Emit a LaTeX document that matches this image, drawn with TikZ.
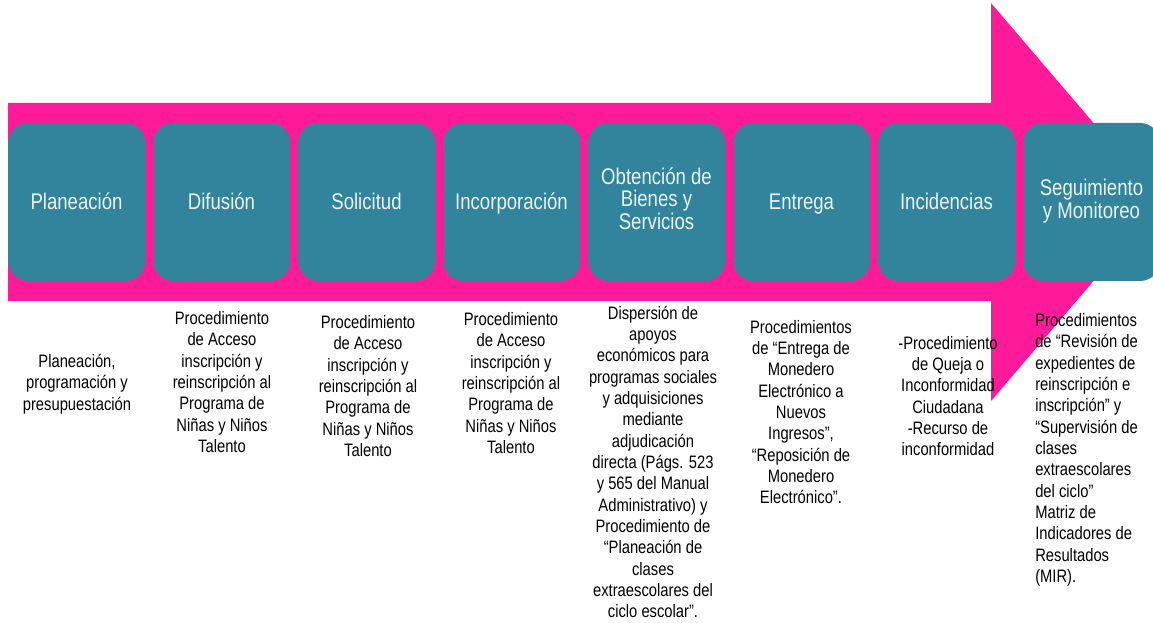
\documentclass[tikz,border=0pt]{standalone}
\usepackage{fontspec}
\setmainfont{Liberation Sans}[FakeStretch=0.82]
\usetikzlibrary{positioning}
\definecolor{flowpink}{HTML}{FF1A9A}
\definecolor{stageteal}{HTML}{31849B}
\definecolor{stagetext}{HTML}{EAF4F4}
\tikzset{
  stagebox/.style={rectangle,rounded corners=15pt,fill=stageteal,text=stagetext,
    minimum width=102.75pt,minimum height=118.5pt,align=center,inner sep=2pt,
    outer sep=0pt,font=\fontsize{17}{17}\selectfont,
    execute at begin node={\rule[-5.1pt]{0pt}{21.5pt}}},
  proctext/.style={align=center,inner sep=0pt,text=black,
    font=\fontsize{13.5}{16}\selectfont}
}
\begin{document}
\begin{tikzpicture}[x=0.75pt,y=-0.75pt]
	\useasboundingbox[fill=white] (0,0) rectangle (1153,623);
	% big arrow behind the stages
	\fill[flowpink] (8,103) -- (991,103) -- (991,3) -- (1161,202) -- (991,401) -- (991,301) -- (8,301) -- cycle;
	\node[stagebox] (plan) at (76.5,202) {Planeación};
	\node[stagebox,right=6pt of plan] (difu) {Difusión};
	\node[stagebox,right=6pt of difu] (soli) {Solicitud};
	\node[stagebox,right=6pt of soli] (inco) {Incorporación};
	\node[stagebox,right=6pt of inco] (obte) {Obtención de\\Bienes y\\Servicios};
	\node[stagebox,right=6pt of obte] (entr) {Entrega};
	\node[stagebox,right=6pt of entr] (inci) {Incidencias};
	\node[stagebox,right=6pt of inci] (segu) {Seguimiento\\y Monitoreo};
	% procedures under each stage
	\node[proctext] (planp) at (77,384) {Planeación,\\programación y\\presupuestación};
	\node[proctext] (difup) at (222,382) {Procedimiento\\de Acceso\\inscripción y\\reinscripción al\\Programa de\\Niñas y Niños\\Talento};
	\node[proctext] (solip) at (368,386) {Procedimiento\\de Acceso\\inscripción y\\reinscripción al\\Programa de\\Niñas y Niños\\Talento};
	\node[proctext] (incop) at (511,383) {Procedimiento\\de Acceso\\inscripción y\\reinscripción al\\Programa de\\Niñas y Niños\\Talento};
	\node[proctext] (obtep) at (653,462) {Dispersión de\\apoyos\\económicos para\\programas sociales\\y adquisiciones\\mediante\\adjudicación\\directa (Págs. 523\\y 565 del Manual\\Administrativo) y\\Procedimiento de\\“Planeación de\\clases\\extraescolares del\\ciclo escolar”.};
	\node[proctext] (entrp) at (801,412) {Procedimientos\\de “Entrega de\\Monedero\\Electrónico a\\Nuevos\\Ingresos”,\\“Reposición de\\Monedero\\Electrónico”.};
	\node[proctext] (incip) at (948,396) {-Procedimiento\\de Queja o\\Inconformidad\\Ciudadana\\-Recurso de\\inconformidad};
	\node[proctext,align=left,anchor=west] (segup) at (1035,450) {Procedimientos\\de “Revisión de\\expedientes de\\reinscripción e\\inscripción” y\\“Supervisión de\\clases\\extraescolares\\del ciclo”\\Matriz de\\Indicadores de\\Resultados\\(MIR).};
\end{tikzpicture}
\end{document}
